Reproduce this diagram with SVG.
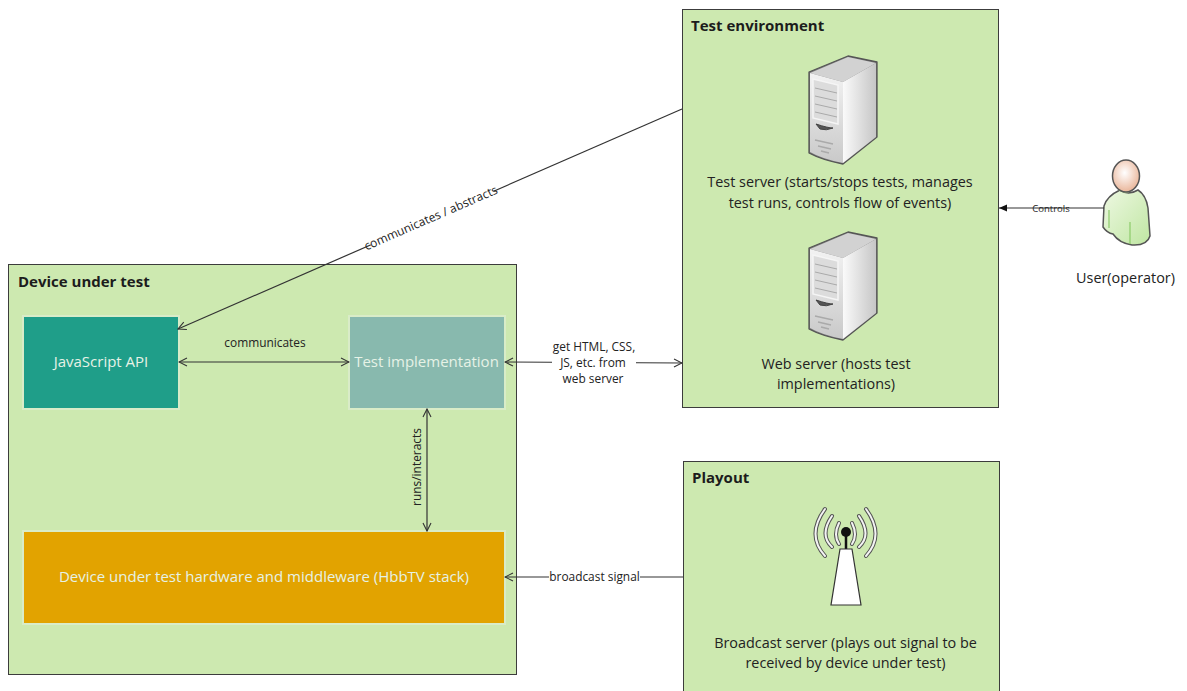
<svg xmlns="http://www.w3.org/2000/svg" width="1187" height="691" viewBox="0 0 1187 691">
<style>
text{font-family:"Open Sans","Noto Sans","Liberation Sans",sans-serif;fill:#222}
.box{fill:#cde9b0;stroke:#3c3c3c;stroke-width:1}
.ttl{font-size:15px;font-weight:700;fill:#1c1c1c}
.lbl{font-size:14.400px;text-anchor:middle}
.in{font-size:15px;text-anchor:middle;fill:#e6f2e6}
.el{font-size:11.900px;text-anchor:middle}
.c{fill:none;stroke:#333;stroke-width:1.2}
.inner{stroke:#d9ecc8;stroke-width:2}
.bg{fill:#fff}
</style>
<defs>
<marker id="o" markerWidth="10" markerHeight="10" refX="9" refY="5" orient="auto-start-reverse" markerUnits="userSpaceOnUse"><path d="M1 1 L9 5 L1 9" fill="none" stroke="#333" stroke-width="1.1"/></marker>
<marker id="f" markerWidth="10" markerHeight="10" refX="9" refY="5" orient="auto" markerUnits="userSpaceOnUse"><path d="M1 1.5 L9 5 L1 8.500Z" fill="#111"/></marker>
<linearGradient id="sf" x1="0" y1="0" x2="0" y2="1"><stop offset="0" stop-color="#f2f2f2"/><stop offset="1" stop-color="#c9c9c9"/></linearGradient>
<linearGradient id="ss" x1="0" y1="0" x2="1" y2="0"><stop offset="0" stop-color="#fafafa"/><stop offset="1" stop-color="#c6c6c6"/></linearGradient>
<linearGradient id="body" x1="0" y1="0" x2="1" y2="1"><stop offset="0" stop-color="#eef8e2"/><stop offset="1" stop-color="#bfe6a2"/></linearGradient>
<radialGradient id="head" cx=".45" cy=".4" r=".65"><stop offset="0" stop-color="#fff"/><stop offset="1" stop-color="#e8b092"/></radialGradient>
<g id="server">
<path d="M809 72 L848 56 L877 62 V137 L843 164 Q822 160 809 153Z" fill="#777" stroke="#555" stroke-width="1.3" stroke-linejoin="round"/>
<path d="M810 73 L848 57 L876 63 L843 82Z" fill="#d2d2d2"/>
<path d="M843 82 L876 63 V137 L843 163Z" fill="url(#ss)"/>
<path d="M810 73 L843 82 V163 Q822 159 810 152Z" fill="url(#sf)"/>
<path d="M813 79 L838 85 V124 L813 118Z" fill="#dcdcdc" stroke="#f5f5f5" stroke-width="1.5"/>
<path d="M815 88 L837 93 M815 96 L837 101 M815 104 L837 109 M815 112 L837 117" stroke="#aaa" fill="none"/>
<path d="M816 124 Q828 128 833 128 Q826 131 820 129Z" fill="#555" stroke="#444"/>
<path d="M815 140 L833 144 M818 146 L831 149 M821 151 L829 153" stroke="#aaa" stroke-width="1.5" fill="none"/>
</g>
</defs>
<rect width="1187" height="691" fill="#fff"/>

<g id="device-under-test"><rect class="box" x="8.500" y="264.500" width="508" height="410"/><text class="ttl" x="18" y="287">Device under test</text></g>
<g id="test-environment"><rect class="box" x="682.500" y="9.500" width="316" height="398"/><text class="ttl" x="691" y="31">Test environment</text></g>
<g id="playout"><rect class="box" x="683.500" y="461.500" width="316" height="240"/><text class="ttl" x="692" y="483">Playout</text></g>

<g id="javascript-api"><rect class="inner" x="23" y="316" width="156" height="93" fill="#1f9e89"/><text class="in" x="101" y="367">JavaScript API</text></g>
<g id="test-implementation"><rect class="inner" x="349" y="316" width="156" height="93" fill="#88b9ae"/><text class="in" x="426.500" y="367">Test implementation</text></g>
<g id="hardware-middleware"><rect class="inner" x="23" y="531" width="482" height="93" fill="#e2a300"/><text class="in" x="264" y="582">Device under test hardware and middleware (HbbTV stack)</text></g>

<g id="test-server"><use href="#server"/><text class="lbl" x="840" y="187">Test server (starts/stops tests, manages</text><text class="lbl" x="840" y="208">test runs, controls flow of events)</text></g>
<g id="web-server"><use href="#server" y="176"/><text class="lbl" x="836" y="369">Web server (hosts test</text><text class="lbl" x="836" y="389">implementations)</text></g>

<g id="broadcast-server">
<g fill="none" stroke-linecap="round">
<g stroke="#555" stroke-width="4"><path d="M825 509 Q806 535 825 556M832 516 Q819 535 832 547M839 523 Q833 535 839 544M866 509 Q885 535 866 556M859 516 Q872 535 859 547M852 523 Q858 535 852 544"/></g>
<g stroke="#f4f4f4" stroke-width="2"><path d="M825 509 Q806 535 825 556M832 516 Q819 535 832 547M839 523 Q833 535 839 544M866 509 Q885 535 866 556M859 516 Q872 535 859 547M852 523 Q858 535 852 544"/></g>
</g>
<path d="M846 535 V549" stroke="#111" stroke-width="2.500"/>
<circle cx="846" cy="532" r="5" fill="#111"/>
<path d="M840 549 H852 L861 605 H831Z" fill="#fff" stroke="#333" stroke-width="1.2"/>
<text class="lbl" x="845.500" y="648">Broadcast server (plays out signal to be</text><text class="lbl" x="845.500" y="668">received by device under test)</text>
</g>

<g id="user-operator">
<path d="M1120 190 Q1107 196 1104 206 L1103 227 Q1107 233 1113 234 Q1119 243 1132 245 Q1147 246 1150 236 L1148 208 Q1146 195 1138 190 Q1128 196 1120 190Z" fill="url(#body)" stroke="#555" stroke-width="1.500"/>
<path d="M1109 210 V228 M1130 222 V244" stroke="#8ccb6a" stroke-width="1.200" fill="none"/>
<path d="M1118 190 Q1126 196 1133 190 L1131 185 H1120Z" fill="#a5d987"/>
<ellipse cx="1126" cy="176" rx="13.500" ry="16" fill="url(#head)" stroke="#555" stroke-width="1.500"/>
<text class="lbl" x="1125.500" y="283">User(operator)</text>
</g>

<g id="connectors">
<path class="c" d="M682 109 L178 329" marker-end="url(#o)"/>
<path class="c" d="M179 362 H349" marker-start="url(#o)" marker-end="url(#o)"/>
<path class="c" d="M505 362 L682 363" marker-start="url(#o)" marker-end="url(#o)"/>
<path class="c" d="M427 409 V531" marker-start="url(#o)" marker-end="url(#o)"/>
<path class="c" d="M683 577 H505" marker-end="url(#o)"/>
<path class="c" d="M1104 208 H999" marker-end="url(#f)"/>

<g transform="rotate(-23.600 431 218)"><rect class="bg" x="365" y="210" width="134" height="16"/><text class="el" x="431" y="222" style="font-size:12px">communicates / abstracts</text></g>
<text class="el" x="265" y="347">communicates</text>
<rect class="bg" x="552" y="338" width="84" height="50"/>
<text class="el" x="594" y="351">get HTML, CSS,</text><text class="el" x="593" y="367">JS, etc. from</text><text class="el" x="593" y="383">web server</text>
<text class="el" transform="translate(421 467) rotate(-90)">runs/interacts</text>
<rect x="549" y="570" width="91" height="14" fill="#fff"/><text class="el" x="594.500" y="581">broadcast signal</text>
<text class="el" x="1051" y="212" style="font-size:9.500px">Controls</text>
</g>
</svg>
